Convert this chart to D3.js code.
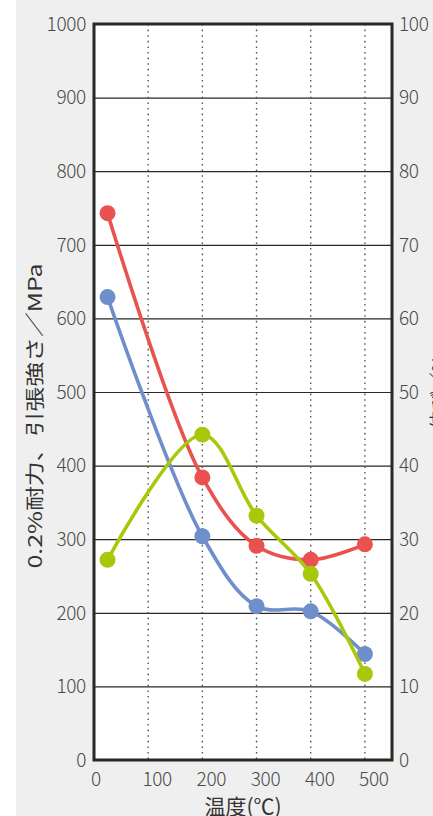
<!DOCTYPE html>
<html>
<head>
<meta charset="utf-8">
<script src="https://cdn.jsdelivr.net/npm/d3@7"></script>
<style>
  html, body { margin: 0; padding: 0; background: #fff; }
  svg { display: block; }
  text { font-family: "Noto Sans CJK JP", "Noto Sans", sans-serif; }
</style>
</head>
<body>
<svg id="chart" width="433" height="816"></svg>
<script>
// Test temperatures (°C)
const temps = [25, 200, 300, 400, 500];
// Tensile strength (MPa)
const tensileStrength = [743, 384, 291, 272, 293];
// 0.2% proof stress (MPa)
const proofStress = [629, 304, 209, 202, 144];
// Elongation (%) — right axis
const elongation = [27.2, 44.2, 33.2, 25.3, 11.7];

const xTicks = [0, 100, 200, 300, 400, 500];
const leftTicks = [0, 100, 200, 300, 400, 500, 600, 700, 800, 900, 1000];
const rightTicks = [0, 10, 20, 30, 40, 50, 60, 70, 80, 90, 100];

const leftTitle = "0.2%耐力、引張強さ／MPa";
const rightTitle = "伸び／%";
const xTitle = "温度(℃)";

const svg = d3.select("#chart");
const W = 433, H = 816;
const plot = { left: 94, right: 392, top: 24, bottom: 760 };

const x = d3.scaleLinear().domain([0, 550]).range([plot.left, plot.right]);
const yL = d3.scaleLinear().domain([0, 1000]).range([plot.bottom, plot.top]);
const yR = d3.scaleLinear().domain([0, 100]).range([plot.bottom, plot.top]);

// panel background
svg.append("rect").attr("x", 16).attr("y", 0).attr("width", W - 16).attr("height", H).attr("fill", "#efefef");
svg.append("rect").attr("x", plot.left).attr("y", plot.top)
  .attr("width", plot.right - plot.left).attr("height", plot.bottom - plot.top).attr("fill", "#fff");

// horizontal grid
svg.append("g").selectAll("line").data(leftTicks.filter(d => d > 0 && d < 1000)).join("line")
  .attr("x1", plot.left).attr("x2", plot.right)
  .attr("y1", d => yL(d) + 0.5).attr("y2", d => yL(d) + 0.5)
  .attr("stroke", "#2b2725").attr("stroke-width", 1.2);

// vertical dotted grid
svg.append("g").selectAll("line").data(xTicks.filter(d => d > 0)).join("line")
  .attr("x1", d => x(d)).attr("x2", d => x(d))
  .attr("y1", plot.top).attr("y2", plot.bottom)
  .attr("stroke", "#555").attr("stroke-width", 1.4).attr("stroke-dasharray", "1.6,4");

// frame
svg.append("rect").attr("x", plot.left).attr("y", plot.top)
  .attr("width", plot.right - plot.left).attr("height", plot.bottom - plot.top)
  .attr("fill", "none").attr("stroke", "#2b2725").attr("stroke-width", 3);

// left axis labels
const tickFont = 19;
svg.append("g").selectAll("text").data(leftTicks).join("text")
  .attr("x", plot.left - 8).attr("y", d => yL(d))
  .attr("dy", "0.36em").attr("text-anchor", "end")
  .attr("font-size", tickFont).attr("font-weight", 300).attr("fill", "#4a4a4a")
  .attr("letter-spacing", -0.3)
  .text(d => d);

// right axis labels
svg.append("g").selectAll("text").data(rightTicks).join("text")
  .attr("x", plot.right + 7).attr("y", d => yR(d))
  .attr("dy", "0.36em").attr("text-anchor", "start")
  .attr("font-size", tickFont).attr("font-weight", 300).attr("fill", "#4a4a4a")
  .attr("letter-spacing", -0.3)
  .text(d => d);

// bottom axis labels
svg.append("g").selectAll("text").data(xTicks).join("text")
  .attr("x", d => x(d) + (d === 0 ? 2 : 9)).attr("y", plot.bottom + 26)
  .attr("text-anchor", "middle")
  .attr("font-size", tickFont).attr("font-weight", 300).attr("fill", "#4a4a4a")
  .attr("letter-spacing", -0.3)
  .text(d => d);

// axis titles
svg.append("text").attr("x", 243).attr("y", 814).attr("text-anchor", "middle")
  .attr("font-size", 21).attr("fill", "#333").text(xTitle);

svg.append("text")
  .attr("transform", "translate(42,416) rotate(-90)")
  .attr("text-anchor", "middle").attr("font-size", 19).attr("fill", "#333")
  .attr("textLength", 305).attr("lengthAdjust", "spacingAndGlyphs")
  .text(leftTitle);

svg.append("text")
  .attr("transform", "translate(446,392) rotate(-90)")
  .attr("text-anchor", "middle").attr("font-size", 19).attr("fill", "#333")
  .text(rightTitle);

// series
const series = [
  { values: proofStress, y: yL, color: "#6f8fcb" },
  { values: tensileStrength, y: yL, color: "#e9524f" },
  { values: elongation, y: yR, color: "#a7c80b" }
];

const line = d3.line().curve(d3.curveCatmullRom.alpha(0.5));

series.forEach(s => {
  const pts = temps.map((t, i) => [x(t), s.y(s.values[i])]);
  const g = svg.append("g");
  g.append("path").attr("d", line(pts))
    .attr("fill", "none").attr("stroke", s.color).attr("stroke-width", 3.6)
    .attr("stroke-linecap", "round").attr("stroke-linejoin", "round");
  g.selectAll("circle").data(pts).join("circle")
    .attr("cx", d => d[0]).attr("cy", d => d[1]).attr("r", 8)
    .attr("fill", s.color);
});
</script>
</body>
</html>
